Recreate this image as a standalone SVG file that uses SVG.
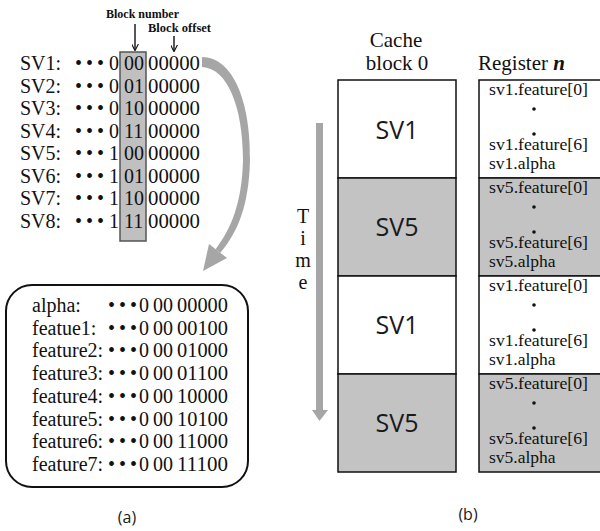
<svg xmlns="http://www.w3.org/2000/svg" width="600" height="531" viewBox="0 0 600 531">
<style>
.t{font-family:"Liberation Serif","Times New Roman",serif;fill:#111}
.row{font-size:20px}
.reg{font-size:17.5px}
.big{font-family:"Open Sans","Noto Sans",sans-serif;font-size:25px;fill:#1a1a1a;text-anchor:middle}
.cap{font-family:"Open Sans","Noto Sans",sans-serif;font-size:16px;fill:#1a1a1a;text-anchor:middle}
.lbl{font-family:"Liberation Serif","Times New Roman",serif;font-size:12px;font-weight:bold;fill:#111}
.w{fill:#fff;stroke:#111;stroke-width:1.5}
.g{fill:#c3c3c3;stroke:#111;stroke-width:1.5}
.dot{fill:#111}
.arr{fill:#a6a6a6}
</style>
<defs>
<marker id="ah" viewBox="0 0 10 10" refX="9" refY="5" markerWidth="7" markerHeight="7" orient="auto" markerUnits="userSpaceOnUse"><path d="M0,0 L10,5 L0,10" fill="none" stroke="#111" stroke-width="1.6"/></marker>
</defs>
<rect width="600" height="531" fill="#fff"/>

<!-- Panel (a) top: address table -->
<g id="block-field">
<rect x="120" y="52" width="26" height="189" fill="#c0c0c0" stroke="#555" stroke-width="1.5"/>
</g>
<g id="labels-a">
<text class="lbl" x="106" y="18" textLength="73" lengthAdjust="spacingAndGlyphs">Block number</text>
<text class="lbl" x="148" y="32" textLength="63" lengthAdjust="spacingAndGlyphs">Block offset</text>
</g>
<g id="sv-rows" class="t row">
<text x="20" y="70">SV1:</text><text x="75 86 97" y="70">•••</text><text x="109" y="70">0</text><text x="124" y="70">00</text><text x="148" y="70" textLength="52" lengthAdjust="spacingAndGlyphs">00000</text>
<text x="20" y="92.6">SV2:</text><text x="75 86 97" y="92.6">•••</text><text x="109" y="92.6">0</text><text x="124" y="92.6">01</text><text x="148" y="92.6" textLength="52" lengthAdjust="spacingAndGlyphs">00000</text>
<text x="20" y="115.1">SV3:</text><text x="75 86 97" y="115.1">•••</text><text x="109" y="115.1">0</text><text x="124" y="115.1">10</text><text x="148" y="115.1" textLength="52" lengthAdjust="spacingAndGlyphs">00000</text>
<text x="20" y="137.7">SV4:</text><text x="75 86 97" y="137.7">•••</text><text x="109" y="137.7">0</text><text x="124" y="137.7">11</text><text x="148" y="137.7" textLength="52" lengthAdjust="spacingAndGlyphs">00000</text>
<text x="20" y="160.3">SV5:</text><text x="75 86 97" y="160.3">•••</text><text x="109" y="160.3">1</text><text x="124" y="160.3">00</text><text x="148" y="160.3" textLength="52" lengthAdjust="spacingAndGlyphs">00000</text>
<text x="20" y="182.9">SV6:</text><text x="75 86 97" y="182.9">•••</text><text x="109" y="182.9">1</text><text x="124" y="182.9">01</text><text x="148" y="182.9" textLength="52" lengthAdjust="spacingAndGlyphs">00000</text>
<text x="20" y="205.4">SV7:</text><text x="75 86 97" y="205.4">•••</text><text x="109" y="205.4">1</text><text x="124" y="205.4">10</text><text x="148" y="205.4" textLength="52" lengthAdjust="spacingAndGlyphs">00000</text>
<text x="20" y="228">SV8:</text><text x="75 86 97" y="228">•••</text><text x="109" y="228">1</text><text x="124" y="228">11</text><text x="148" y="228" textLength="52" lengthAdjust="spacingAndGlyphs">00000</text>
</g>

<!-- Panel (a) bottom: field offsets -->
<g id="field-box">
<rect x="6" y="285" width="242" height="202" rx="26" ry="26" fill="#fff" stroke="#111" stroke-width="2"/>
<g class="t row">
<text x="32" y="312">alpha:</text><text x="108 119 130" y="312">•••</text><text x="139" y="312">0</text><text x="153" y="312">00</text><text x="177" y="312" textLength="51" lengthAdjust="spacingAndGlyphs">00000</text>
<text x="32" y="334.7">featue1:</text><text x="108 119 130" y="334.7">•••</text><text x="139" y="334.7">0</text><text x="153" y="334.7">00</text><text x="177" y="334.7" textLength="51" lengthAdjust="spacingAndGlyphs">00100</text>
<text x="32" y="357.4">feature2:</text><text x="108 119 130" y="357.4">•••</text><text x="139" y="357.4">0</text><text x="153" y="357.4">00</text><text x="177" y="357.4" textLength="51" lengthAdjust="spacingAndGlyphs">01000</text>
<text x="32" y="380.1">feature3:</text><text x="108 119 130" y="380.1">•••</text><text x="139" y="380.1">0</text><text x="153" y="380.1">00</text><text x="177" y="380.1" textLength="51" lengthAdjust="spacingAndGlyphs">01100</text>
<text x="32" y="402.8">feature4:</text><text x="108 119 130" y="402.8">•••</text><text x="139" y="402.8">0</text><text x="153" y="402.8">00</text><text x="177" y="402.8" textLength="51" lengthAdjust="spacingAndGlyphs">10000</text>
<text x="32" y="425.5">feature5:</text><text x="108 119 130" y="425.5">•••</text><text x="139" y="425.5">0</text><text x="153" y="425.5">00</text><text x="177" y="425.5" textLength="51" lengthAdjust="spacingAndGlyphs">10100</text>
<text x="32" y="448.2">feature6:</text><text x="108 119 130" y="448.2">•••</text><text x="139" y="448.2">0</text><text x="153" y="448.2">00</text><text x="177" y="448.2" textLength="51" lengthAdjust="spacingAndGlyphs">11000</text>
<text x="32" y="471">feature7:</text><text x="108 119 130" y="471">•••</text><text x="139" y="471">0</text><text x="153" y="471">00</text><text x="177" y="471" textLength="51" lengthAdjust="spacingAndGlyphs">11100</text>
</g>
</g>

<!-- Panel (b) headers -->
<g id="cache-header" class="t" font-size="21" text-anchor="middle">
<text x="396" y="47">Cache</text>
<text x="397" y="70">block 0</text>
</g>
<g id="register-header" class="t" font-size="21">
<text x="478" y="70">Register <tspan font-style="italic" font-weight="bold">n</tspan></text>
</g>

<!-- Cache column -->
<g id="cache-1"><rect class="w" x="338" y="80" width="118" height="98"/><text class="big" x="397" y="139">SV1</text></g>
<g id="cache-2"><rect class="g" x="338" y="178" width="118" height="98"/><text class="big" x="397" y="236">SV5</text></g>
<g id="cache-3"><rect class="w" x="338" y="276" width="118" height="98"/><text class="big" x="397" y="334">SV1</text></g>
<g id="cache-4"><rect class="g" x="338" y="374" width="118" height="98"/><text class="big" x="397" y="432">SV5</text></g>

<!-- Register column -->
<g id="reg-1">
<rect class="w" x="479" y="80" width="130" height="98"/>
<g class="t reg"><text x="489" y="95" textLength="99" lengthAdjust="spacingAndGlyphs">sv1.feature[0]</text><text x="489" y="150" textLength="99" lengthAdjust="spacingAndGlyphs">sv1.feature[6]</text><text x="489" y="169">sv1.alpha</text></g>
<circle class="dot" cx="534" cy="109" r="1.8"/><circle class="dot" cx="534" cy="134" r="1.8"/>
</g>
<g id="reg-2">
<rect class="g" x="479" y="178" width="130" height="98"/>
<g class="t reg"><text x="489" y="193" textLength="99" lengthAdjust="spacingAndGlyphs">sv5.feature[0]</text><text x="489" y="248" textLength="99" lengthAdjust="spacingAndGlyphs">sv5.feature[6]</text><text x="489" y="267">sv5.alpha</text></g>
<circle class="dot" cx="534" cy="207" r="1.8"/><circle class="dot" cx="534" cy="232" r="1.8"/>
</g>
<g id="reg-3">
<rect class="w" x="479" y="276" width="130" height="98"/>
<g class="t reg"><text x="489" y="291" textLength="99" lengthAdjust="spacingAndGlyphs">sv1.feature[0]</text><text x="489" y="346" textLength="99" lengthAdjust="spacingAndGlyphs">sv1.feature[6]</text><text x="489" y="365">sv1.alpha</text></g>
<circle class="dot" cx="534" cy="305" r="1.8"/><circle class="dot" cx="534" cy="330" r="1.8"/>
</g>
<g id="reg-4">
<rect class="g" x="479" y="374" width="130" height="98"/>
<g class="t reg"><text x="489" y="389" textLength="99" lengthAdjust="spacingAndGlyphs">sv5.feature[0]</text><text x="489" y="444" textLength="99" lengthAdjust="spacingAndGlyphs">sv5.feature[6]</text><text x="489" y="463">sv5.alpha</text></g>
<circle class="dot" cx="534" cy="403" r="1.8"/><circle class="dot" cx="534" cy="428" r="1.8"/>
</g>

<!-- Time label -->
<g id="time-label" class="t" font-size="20" text-anchor="middle">
<text x="303" y="223">T</text><text x="303" y="245">i</text><text x="303" y="267">m</text><text x="303" y="289">e</text>
</g>

<!-- Connectors -->
<g id="connectors">
<line x1="135" y1="24" x2="135" y2="50" stroke="#111" stroke-width="1.4" marker-end="url(#ah)"/>
<line x1="174" y1="36" x2="174" y2="51" stroke="#111" stroke-width="1.4" marker-end="url(#ah)"/>
<path class="arr" d="M202 57 C233 57 251 102 250 160 C249 205 238 232 220.4 252.8 L215.6 249.2 C231 229 242 203 243 160 C243 108 228 68 202 67 Z"/>
<polygon class="arr" points="227,258 209,244 203,271"/>
<rect class="arr" x="316" y="123" width="7" height="288"/>
<polygon class="arr" points="312,410 328,410 319.5,421"/>
</g>

<!-- Captions -->
<text class="cap" x="127" y="523">(a)</text>
<text class="cap" x="468" y="520">(b)</text>
</svg>
